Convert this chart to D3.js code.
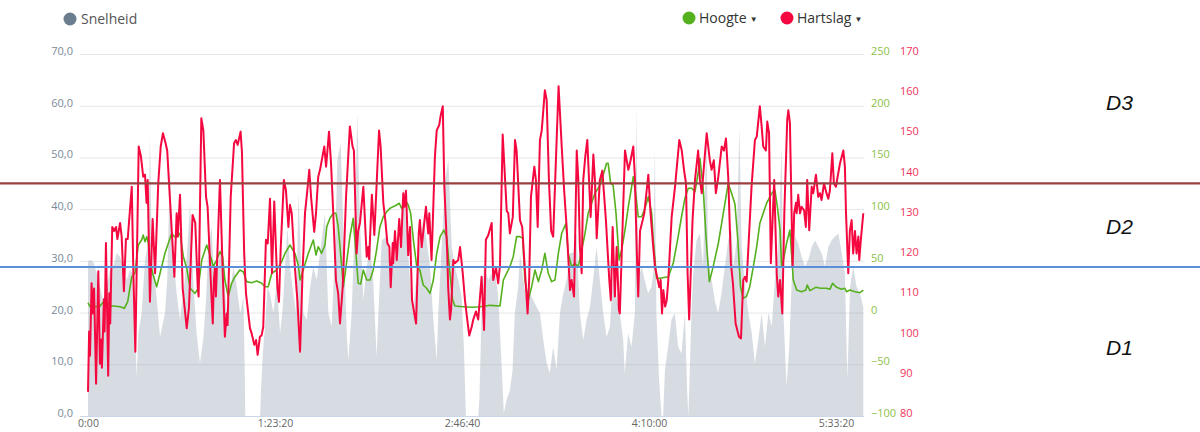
<!DOCTYPE html>
<html>
<head>
<meta charset="utf-8">
<script src="https://cdn.jsdelivr.net/npm/d3@7"></script>
<style>
  body { margin: 0; background: #fff; }
  svg { display: block; font-family: "Open Sans", sans-serif; }
</style>
</head>
<body>
<div id="chart"></div>
<script>
////////////////////////////////////////////////////////////////////
////////////////////////////  Data  ////////////////////////////////
// [minuten, waarde]
const snelheid = [
  [0,29.8],[0.9,30.2],[2.4,29.8],[3.9,27.6],[5.3,25],[6.8,22.4],[8.3,25],[9.8,28.2],[11.3,28.9],[12.8,31.5],
  [14.3,30.8],[15.7,28.9],[17.2,26.3],[18.7,28.2],[20.2,27.6],[20.9,18],[21.7,7.6],[22.4,16],[23.9,19.9],[25.4,30.2],
  [26.9,34],[27.6,54],[28.4,32.7],[29.9,26.3],[32.1,15.3],[34.3,19.9],[35.3,26.3],[36.5,48.2],[37.7,32.7],[39.5,23.7],
  [41,18.6],[42.8,25],[44,30.8],[45.5,41.1],[46.9,26.3],[48.4,16],[49.9,10.2],[51.4,15],[52.6,22.4],[53.6,32.7],
  [55.1,36.6],[55.9,28.9],[57.4,26.3],[58.9,32.7],[60.3,28.9],[61.8,19.9],[63.3,23.7],[64.8,28.9],[66.3,25],[67.8,19.9],
  [69.3,23.1],[69.8,10],[70.1,0],[76.7,0],[77.1,5],[77.9,12.1],[78.9,17.3],[80,25],[81.1,23.7],[82.6,19.9],
  [84.1,26.3],[85.6,16],[86.8,21.1],[87.8,28.9],[88.9,36.6],[90,28.9],[91.5,23.7],[92.7,19.9],[93.8,43.1],[94.8,31.5],
  [96,19.9],[97.5,18.6],[99,25],[100.4,28.9],[101.9,26.3],[103.4,31.5],[105.6,39.2],[107.1,19.9],[108.6,17.3],[110.1,32.7],
  [111.1,49.5],[112.6,52.7],[113.8,36],[115.3,16],[116,10.8],[117.5,19.9],[119,39.2],[120,58.5],[121.2,37.9],[122.7,22.4],
  [124.2,28.9],[125.7,32.7],[127.1,26.3],[128.6,11.5],[129.4,19.9],[130.9,34],[133.1,34.7],[134.6,28.9],[136.1,30.2],[137.5,31.5],
  [139,34],[140.5,44.3],[142,36],[143.5,26.3],[145,19.9],[146.5,28.2],[147.9,34],[149.4,37.9],[150.9,34],[152.4,28.9],
  [153.9,18.6],[155.4,10.8],[156.1,19.9],[157.6,32.7],[159.1,45.6],[160.6,49.5],[162.1,32.7],[163.5,28.9],[165,26.3],[166.5,23.1],
  [167.5,13.4],[168.4,0],[173.9,0],[174.4,3.1],[175.4,19.9],[176.4,28.9],[178.4,26.3],[179.9,27.6],[181.3,28.2],[182.8,23.1],
  [184.3,10.2],[185.3,0.5],[186.5,3.1],[188,5],[189.2,8.9],[190.2,19.9],[191.7,25],[192.5,31.5],[194,26.3],[195.4,22.4],
  [196.9,23.7],[198.4,22.4],[199.9,21.1],[201.4,19.9],[202.9,14.7],[204.4,10.2],[205.8,8.3],[207.3,13.4],[208.8,8.9],[210.3,19.9],
  [211.8,23.7],[213.3,26.3],[214.8,31.5],[216.2,31.5],[217.7,35.3],[219.2,19.9],[220.7,14.7],[222.2,18.6],[223.7,21.1],[225.1,26.3],
  [226.6,32.7],[228.1,26.3],[229.6,19.9],[231.1,15.3],[232.6,17.3],[234,27.6],[235.5,23.1],[237,19.9],[238.5,14.7],[239.2,8.3],
  [240.7,16],[242.2,13.4],[243.7,19.9],[244.4,59.8],[245.2,26.3],[246.7,28.9],[248.1,26.3],[249.6,23.7],[251.1,25],[251.9,27.6],
  [252.6,52.1],[253.3,19.9],[254.5,7],[255.6,0],[256.3,0],[257.1,8.9],[258.5,13.4],[260,18.6],[261.5,19.9],[263,13.4],
  [264.5,12.1],[266,19.9],[267,5],[267.5,0],[267.9,5],[269,21.1],[269.7,27.6],[271.2,34],[272.7,35.3],[274.1,28.9],
  [275.6,54.7],[276.4,30.2],[277.9,26.3],[279.3,22.4],[280.8,19.9],[282.3,23.7],[283.8,28.9],[285.3,34],[286.8,36],[287.6,28.9],
  [289.1,34],[290.3,56],[291.3,32.7],[292.8,25],[294.3,19.9],[295.8,16],[297.2,10.2],[298.7,14.7],[300.2,19.9],[301.7,13.4],
  [303.2,19.9],[304.7,17.3],[306.1,26.3],[307.6,32.7],[309.1,52.1],[309.9,19.9],[311.3,5.7],[312.5,13.4],[313.6,26.3],[315.1,34.7],
  [316.5,33.4],[318,30.8],[319.5,28.9],[321,30.2],[322.5,32.7],[324,34],[325.5,32.7],[326.9,31.5],[328.4,28.9],[329.9,32.7],
  [331.4,34],[332.9,34.7],[334.4,35.3],[335.9,31.5],[337.3,27.6],[338.4,7],[339.6,25],[341,28.9],[342.5,25],[344,23.7],
  [345.5,21.1]
];

const hoogte = [
  [0,9.5],[0.9,5.7],[5.3,6],[7.6,12.2],[9.8,6.4],[11.3,6.4],[14.3,5.7],[16.2,4.1],[17.7,10.5],[19.5,34.7],
  [20.9,38],[22.4,65.3],[23.9,70.2],[24.6,75],[25.4,68.5],[26.2,73.4],[26.9,67],[27.6,50.8],[28.8,38],[30.6,25],
  [32.1,38],[34.3,57.3],[35.8,67],[37.3,76.7],[38.5,73.4],[39.5,73.4],[41,76.7],[42.5,54],[44,42.8],[45.5,23.5],
  [47.7,18.6],[49.1,23.5],[50.7,50.8],[52.9,65.3],[55.1,50.8],[55.8,44.4],[57.3,50.8],[58.8,58.9],[60,54],[61,31.5],
  [62.5,15.4],[64,28.3],[65.5,34.7],[67.7,41.2],[69.2,39.5],[70.7,29.9],[72.9,28.9],[75.2,30.5],[77.4,28.3],[78.9,25],
  [80.3,25],[81.9,38],[84.1,41.2],[86.3,49.2],[87.8,57.3],[90,65.3],[92.2,57.3],[93.7,46],[94.5,31.5],[95.9,41.2],
  [98.2,57.3],[100.4,70.2],[101.6,55.7],[102.6,63.7],[104.1,57.3],[105.6,65.3],[106.4,83],[107.8,91.2],[109.3,96],[110.5,96],
  [111.5,83],[112.3,63.7],[113.8,25],[115,44.4],[116.7,73.4],[118.2,91.2],[119.4,57.3],[120.4,28.3],[121.5,27.6],[122.7,41.2],
  [124.2,31.5],[125.7,31.5],[127.1,41.2],[128.6,60.5],[130.1,83],[131.6,92.7],[133.1,97.5],[134.6,100.8],[136,102.4],[137.5,104],
  [138.7,105.7],[139.8,100.8],[141.3,108.9],[142.7,104],[143.8,96],[145,70.2],[146.5,44.4],[147.9,41.2],[149.4,26.7],[150.9,23.5],
  [152.4,18.6],[153.9,31.5],[155.4,57.3],[156.9,73.4],[158.6,79.8],[159.8,73.4],[161.3,38],[162.5,12.2],[163.5,6.4],[167.2,5.7],
  [171,5.1],[174.7,5.7],[179.1,7],[183.6,6.4],[185.1,31.5],[188,44.4],[189.5,54],[191,73.4],[192.5,73.4],[193.7,71.8],
  [194.7,31.5],[196.2,12.2],[197.7,25],[199.2,41.2],[200.7,29.9],[202.2,41.2],[203.6,57.3],[205.1,38],[206.6,29.9],[208.1,31.5],
  [209.6,57.3],[211.1,76.7],[213,86.3],[214,57.3],[215.5,44.4],[217,47.6],[218.5,44.4],[220,60.5],[221.5,76.7],[222.9,96],
  [224.4,105.7],[225.9,115.3],[228.1,123],[229.6,133],[231.1,144.3],[231.8,144.3],[232.9,124.9],[234,123.3],[235.3,96],[236.7,50.8],
  [237.8,60.5],[239.3,79.8],[240.8,102.4],[243,131.4],[244.2,112],[245.2,92.7],[246.7,92.7],[248.2,100.8],[249.7,112],[251.2,96],
  [251.9,70.2],[253.4,33.1],[254.9,33.1],[258.6,34.7],[260.8,47.6],[263,73.4],[264.5,92.7],[266,110.5],[267.5,120.2],[269,120.2],
  [270.5,116.9],[271.9,134.7],[272.7,149.2],[274.2,118.5],[275.4,73.4],[276.9,29.9],[278.6,44.4],[280.9,67],[283.1,96],[285.3,124.9],
  [286.8,115.3],[288.3,105],[289.6,70.2],[290.8,25],[291.9,13.8],[293.4,15.4],[294.9,25],[296.5,44.4],[298,63.7],[299.4,86.3],
  [300.9,96],[302.4,105.7],[303.2,108.9],[304.7,115.3],[306.1,118.5],[307.2,102.4],[308.4,79.8],[309.1,44.4],[309.9,50.8],[311.3,67],
  [312.8,79.8],[314.3,31.5],[315.8,21.8],[318,20.2],[319.9,21.8],[320.5,26.7],[321.7,21.2],[324.3,24.4],[326.5,23.5],[329.1,23.5],
  [330.6,22.5],[331.8,28.3],[333.6,24.4],[335.8,22.5],[337.3,23.5],[338,20.2],[339.5,21.8],[341.8,20.2],[344,19.2],[345.5,21.8]
];

const hartslag = [
  [0,86],[0.5,101],[0.9,95],[1.6,113],[2.1,105.5],[2.7,111.7],[3.6,88],[4.6,116],[5.3,93],[5.8,99],
  [6.2,92],[7.1,109],[7.4,101],[8,123],[9,90],[9.5,110.5],[9.9,103],[10.8,127],[11.7,126],[12.5,127],
  [13.1,124],[14.3,128],[15,124.6],[16,111],[16.9,124],[17.7,124],[19.5,137],[20.2,116],[21.1,96],[22.6,147],
  [23.6,144.5],[24.6,139.5],[25.4,140],[26.1,133],[26.6,138.7],[27.6,108.4],[28.8,129],[29.9,115.5],[31.3,137.8],[32.4,147],
  [33.4,150.3],[34.5,148],[35.3,146],[36.2,137],[38.5,114.6],[39.5,130.4],[40,124.6],[41,135],[42.2,111.7],[44,101.8],
  [45,107],[46.6,130],[47.8,128],[48.9,112],[49.3,109.7],[50.5,154],[51.4,151],[52.6,134.5],[53.3,132],[55.1,108.8],
  [55.6,103],[56.1,113.8],[56.6,117],[57,109.7],[58.8,138.7],[60,116.3],[61,99.7],[61.8,105.5],[62.2,102.6],[63.6,134.5],
  [65.1,147.8],[65.9,148.6],[66.7,147.4],[68,150.7],[68.6,145.7],[69.6,120.4],[70.4,110.5],[72.2,101.8],[72.9,100.6],[74.1,97.7],
  [74.9,98.9],[75.6,95.2],[76.6,99.7],[77.4,100.1],[78.1,102.2],[79.3,123.8],[80.1,122.9],[81.1,134],[82,115.5],[83,133.3],
  [84.4,112],[85.1,108.4],[85.9,122],[87.3,138.7],[88.2,136.2],[89.3,127],[90,132.5],[90.8,130.4],[92.2,117],[93.3,108.8],
  [94.5,96],[95.7,117],[96.7,130.4],[98.2,138.7],[98.6,141.2],[99.4,134.5],[100.8,125.8],[101.6,130.4],[102.6,139.5],[103.4,141.2],
  [105.3,147],[106.1,142],[107.4,150.7],[108.3,142.8],[109.3,130.4],[110.5,113.8],[111.5,110.5],[112.3,103],[113.5,112],[115,134.5],
  [116.7,152],[117.9,147],[118.5,146],[119.7,120.4],[120.4,126],[121.2,128],[122.7,137],[124.2,119.6],[124.9,122],[125.3,119],
  [126.5,135],[127.6,125],[129.7,151],[130.4,147],[131.6,133],[132.5,128.7],[133.4,123],[134.3,122],[134.9,112],[135.8,123],
  [136,118],[136.8,126],[137.6,118.8],[138.7,129],[139.5,122],[140.5,135.4],[141,132],[141.7,136],[142.7,120],[143.5,127],
  [144.4,108.8],[146.2,103],[147.4,125.4],[147.9,128.7],[148.7,122],[150.6,132],[151.6,125.4],[152.1,130.4],[153.1,118.8],[154.6,144.5],
  [155.4,151],[156.5,152.3],[157.2,154.8],[158.1,157],[158.8,137],[160.1,120.4],[160.5,112],[161.3,104],[161.8,106.4],[162.8,118.8],
  [163.5,118],[165,118.8],[165.8,122],[167,115.5],[168,108.8],[169,104],[169.9,100],[171,102.2],[171.7,104],[172.9,106],
  [173.9,104],[175.4,114.6],[176.5,101.4],[177.3,123.8],[178.4,125],[179.9,128],[180.6,113.8],[181.8,117],[182.8,113],[183.6,117.5],
  [184.8,150],[186.6,131],[187.3,130.4],[188,125.4],[189.3,129.5],[190.3,148.6],[191,146],[192.5,128.7],[193.5,127],[195.9,105.5],
  [196.6,113.8],[197.4,134.5],[198.9,142],[199.6,138.7],[200.4,127],[201.4,148.6],[202.2,151],[203.6,161],[204.4,158.6],[205.4,138.7],
  [206.4,126],[207.3,124.6],[209.7,162],[211.1,147],[212.2,136],[213.3,127],[214.8,111.3],[215.5,113.8],[216.6,109.7],[217.8,146],
  [218.5,138.7],[219.2,122],[220,115.5],[220.7,138.7],[221.6,144.5],[222.5,148.6],[224,129.5],[225.2,145],[225.9,138.7],[226.7,124.2],
  [228.1,138.7],[229.2,141],[230.8,128.7],[232.3,113.8],[233,108.8],[233.8,127],[234.8,109.7],[235.6,122],[236.6,106.4],[237,105.5],
  [239.3,146],[240.8,141.2],[241.8,143.6],[243,147],[243.7,139.5],[244.5,122],[245.2,109.7],[246,126],[247.2,128.7],[247.9,130.4],
  [249.7,140],[250.7,130.4],[251.9,122],[252.7,117],[254.6,112],[255.2,113.8],[255.8,105.5],[256.4,111.3],[257.2,107.2],[257.9,108.8],
  [258.6,113.8],[260.1,129.5],[261.6,137],[263.5,148.6],[264.6,146],[265.6,141.2],[266.5,137.8],[267.2,115.5],[267.9,104],[269.4,128.7],
  [270.5,138.7],[271.9,146],[272.7,138.7],[273.5,135.4],[275.7,150.3],[277.1,143.6],[277.9,141.2],[278.9,143.6],[279.8,135.4],[280.9,139.5],
  [282.4,147],[283.4,146],[284.3,149],[285.3,139.5],[286.5,118],[287.4,113],[288.6,103],[290.1,99.7],[291,99.3],[292,113.8],
  [292.8,114.6],[293.5,113.4],[295.7,137],[297.2,148.6],[298,149.4],[299.4,157],[300.2,152],[300.9,147],[302.1,146],[302.7,153.2],
  [303.5,150.3],[304.3,118],[305.8,138.7],[306.9,115.5],[307.6,109.7],[308.4,113.8],[309.4,105.5],[310.3,130.4],[311.6,153.6],[312.1,156],
  [312.8,152.8],[314,117],[314.7,130.4],[315.5,133],[315.8,130.4],[316.5,135],[317.3,130.4],[318,132],[319.1,131.2],[319.9,127],
  [320.5,138.7],[321.4,126.2],[322.5,137],[323.2,135.4],[324.4,140],[325.4,134.5],[326.2,135.4],[326.9,133.7],[328,137.8],[329.1,135.4],
  [329.9,134],[330.6,136],[331.7,145.3],[332.4,137.8],[333.3,137],[335.1,142.8],[336.6,146],[337.3,142],[337.8,130.4],[338.8,115.5],
  [339.5,126],[340.3,128.7],[341,120.4],[341.8,126],[342.5,120.4],[343.3,124.6],[343.7,118.8],[344.4,123.8],[345.5,130.4]
];

// axes
const tijdTicks = [0, 5000, 10000, 15000, 20000];            // seconden
const tijdLabels = ["0:00", "1:23:20", "2:46:40", "4:10:00", "5:33:20"];
const snelheidTicks = [0, 10, 20, 30, 40, 50, 60, 70];
const hoogteTicks = [-100, -50, 0, 50, 100, 150, 200, 250];
const hartslagTicks = [80, 90, 100, 110, 120, 130, 140, 150, 160, 170];

// zone grenzen (in snelheid) + labels
const zoneGrenzen = [45, 28.8];
const zoneLabels = [["D3", 60.5], ["D2", 36.6], ["D1", 13.3]];

const legendLinks = [["Snelheid", "#6a7e90"]];
const legendRechts = [["Hoogte", "#54b01c"], ["Hartslag", "#f5083f"]];

////////////////////////////////////////////////////////////////////
////////////////////////////  Init  ////////////////////////////////
const width = 1200;
const height = 432;
const margin = { top: 54, right: 336, bottom: 16, left: 80 };

const svg = d3.select("#chart").append("svg")
  .attr("width", width)
  .attr("height", height);

const maxTijd = d3.max(hartslag, (d) => d[0]) * 60;

const xScale = d3.scaleLinear().domain([0, maxTijd]).range([88, 863.3]);
const ySnel = d3.scaleLinear().domain([0, 70]).range([height - margin.bottom, margin.top]);
const yHoogte = d3.scaleLinear().domain([-100, 250]).range(ySnel.range());
const yHart = d3.scaleLinear().domain([80, 170]).range(ySnel.range());

const gridX0 = margin.left;
const gridX1 = width - margin.right;

// grid
svg.append("g")
  .selectAll("line")
  .data(snelheidTicks)
  .join("line")
  .attr("x1", gridX0)
  .attr("x2", gridX1)
  .attr("y1", (d) => ySnel(d) + 0.5)
  .attr("y2", (d) => ySnel(d) + 0.5)
  .attr("stroke", (d) => (d === 0 ? "#ccd6eb" : "#e6e6e6"))
  .attr("stroke-width", 1);

// snelheid area
const area = d3.area()
  .x((d) => xScale(d[0] * 60))
  .y0(ySnel(0))
  .y1((d) => ySnel(d[1]));

svg.append("path")
  .datum(snelheid)
  .attr("fill", "rgb(150,164,178)")
  .attr("fill-opacity", 0.38)
  .attr("d", area);

// lines
const hoogteLine = d3.line()
  .x((d) => xScale(d[0] * 60))
  .y((d) => yHoogte(d[1]));

const hartLine = d3.line()
  .x((d) => xScale(d[0] * 60))
  .y((d) => yHart(d[1]));

svg.append("path")
  .datum(hoogte)
  .attr("fill", "none")
  .attr("stroke", "#54b01c")
  .attr("stroke-width", 1.6)
  .attr("stroke-linejoin", "round")
  .attr("d", hoogteLine);

svg.append("path")
  .datum(hartslag)
  .attr("fill", "none")
  .attr("stroke", "#f5083f")
  .attr("stroke-width", 2)
  .attr("stroke-linejoin", "round")
  .attr("d", hartLine);

// axes
const fmtKomma = (d) => d3.format(".1f")(d).replace(".", ",");

const xAxis = d3.axisBottom(xScale)
  .tickValues(tijdTicks)
  .tickFormat((d, i) => tijdLabels[i])
  .tickSize(0)
  .tickPadding(4);

const gx = svg.append("g")
  .attr("transform", `translate(0,${ySnel(0)})`)
  .call(xAxis);

const yAxisL = d3.axisLeft(ySnel).tickValues(snelheidTicks).tickFormat(fmtKomma).tickSize(0).tickPadding(7);
const gl = svg.append("g").attr("transform", `translate(${gridX0},0)`).call(yAxisL);

const yAxisH = d3.axisRight(yHoogte).tickValues(hoogteTicks).tickSize(0).tickPadding(7);
const gh = svg.append("g").attr("transform", `translate(${gridX1},0)`).call(yAxisH);

const yAxisR = d3.axisRight(yHart).tickValues(hartslagTicks).tickSize(0).tickPadding(36);
const gr = svg.append("g").attr("transform", `translate(${gridX1},0)`).call(yAxisR);

[gx, gl, gh, gr].forEach((g) => {
  g.select(".domain").remove();
  g.selectAll("text").attr("font-family", "Open Sans, sans-serif").attr("font-size", 11);
});
gx.selectAll("text").attr("fill", "#666").attr("font-size", 10.5).attr("dy", "0.71em");
gl.selectAll("text").attr("fill", "#7b8a99").attr("y", -3);
gh.selectAll("text").attr("fill", "#8cbf4a").attr("y", -3);
gr.selectAll("text").attr("fill", "#f0335c").attr("y", -3);

// zone lijnen
svg.append("line")
  .attr("x1", 0).attr("x2", width)
  .attr("y1", ySnel(zoneGrenzen[0])).attr("y2", ySnel(zoneGrenzen[0]))
  .attr("stroke", "#9a3f3f").attr("stroke-width", 2.2);

svg.append("line")
  .attr("x1", 0).attr("x2", width)
  .attr("y1", ySnel(zoneGrenzen[1])).attr("y2", ySnel(zoneGrenzen[1]))
  .attr("stroke", "#5b8fd8").attr("stroke-width", 2);

svg.append("g")
  .selectAll("text")
  .data(zoneLabels)
  .join("text")
  .attr("x", 1106)
  .attr("y", (d) => ySnel(d[1]))
  .attr("dy", "0.35em")
  .attr("font-family", "Liberation Sans, Arial, sans-serif")
  .attr("font-style", "italic")
  .attr("font-size", 21)
  .attr("fill", "#111")
  .text((d) => d[0]);

// legend
const legend = svg.append("g").attr("font-family", "Open Sans, sans-serif").attr("font-size", 14);

legendLinks.forEach(([naam, kleur]) => {
  legend.append("circle").attr("cx", 70).attr("cy", 19).attr("r", 6.5).attr("fill", kleur);
  legend.append("text").attr("x", 81).attr("y", 24).attr("fill", "#555").text(naam);
});

const legendX = [689, 787];
legendRechts.forEach(([naam, kleur], i) => {
  const x0 = legendX[i];
  legend.append("circle").attr("cx", x0).attr("cy", 18).attr("r", 6.5).attr("fill", kleur);
  const t = legend.append("text").attr("x", x0 + 10).attr("y", 23).attr("fill", "#333").text(naam);
  const w = t.node().getComputedTextLength();
  legend.append("text")
    .attr("x", x0 + 13 + w).attr("y", 22)
    .attr("font-size", 8).attr("fill", "#333")
    .text("\u25BC");
});
</script>
</body>
</html>
